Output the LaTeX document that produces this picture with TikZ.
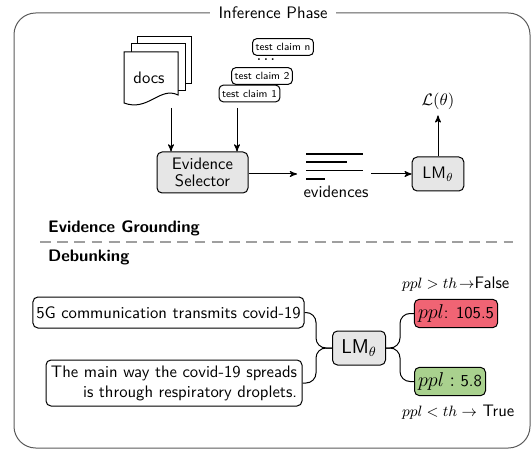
\documentclass[tikz,border=0pt]{standalone}
\usepackage{tikz}
\usepackage{xcolor}
\definecolor{reed}{RGB}{240,100,116}
\definecolor{greeen}{RGB}{169,209,142}
\definecolor{lightgrey}{RGB}{230,230,230}
\definecolor{framegrey}{RGB}{90,90,90}
\usetikzlibrary{arrows,positioning}

\begin{document}
\begin{tikzpicture}[x=0.6pt,y=-0.6pt,->,>=stealth',semithick,font=\sffamily]
        \tikzstyle{box}=[draw=black,fill=white,rounded corners=3pt,align=center,inner sep=2pt]
        \tikzstyle{grey}=[box,fill=lightgrey]
        \tikzstyle{claim}=[draw=black,fill=white,rounded corners=2.5pt,inner sep=1.8pt,minimum height=10pt,font=\sffamily\fontsize{6.3}{7}\selectfont]
        \tikzstyle{page}=[-,draw=black,fill=white]
        \tikzstyle{evline}=[-,line width=1.1pt]
        \tikzstyle{branch}=[-,rounded corners=6pt]

        \useasboundingbox (0,0) rectangle (531,450);

        % outer frame
        \draw[-,framegrey,rounded corners=13pt] (14,13) rectangle (530,448);
        \node[fill=white,inner sep=5pt] (title) at (273,13) {Inference Phase};

        % docs
        \draw[page] (137,37) -- (191,37) -- (191,84) -- (137,84) -- cycle;
        \draw[page] (131,44) -- (185,44) -- (185,91) -- (131,91) -- cycle;
        \draw[page] (124,52) -- (178,52) -- (178,95) .. controls (160,86) and (148,112) .. (124,103) -- cycle;
        \node (docs) at (149,78) {docs};

        % test claims
        \node[claim] (tcn) at (283,47)     {test claim n};
        \node[font=\scriptsize\boldmath] (dots) at (266,60) {$\cdots$};
        \node[claim] (tc2) at (262,76)     {test claim 2};
        \node[claim] (tc1) at (249.5,93.5) {test claim 1};

        \node[grey,minimum width=54.6pt,minimum height=24.6pt] (sel) at (202.5,172.5) {Evidence\\[-2pt]Selector};
        \coordinate (docsout)  at (171,108);
        \coordinate (claimout) at (237,108);
        \draw (docsout)  -- (docsout |- sel.north);
        \draw (claimout) -- (claimout |- sel.north);

        % evidences
        \draw[evline] (306,154) -- (363,154);
        \draw[evline] (306,162) -- (347,162);
        \draw[evline] (306,170.5) -- (363,170.5);
        \draw[evline] (306,179) -- (325,179);
        \node (ev) at (336,192) {evidences};
        \coordinate (evin)  at (297,174);
        \coordinate (evout) at (371,174);

        \node[grey,minimum width=31pt,minimum height=20.4pt] (lm) at (438,174) {LM$_\theta$};
        \node (loss) at (438,101) {$\mathcal{L}(\theta)$};

        \path (sel.east |- evin) edge (evin)
              (evout) edge (lm.west)
              (lm.north) edge (loss.south);

        % sections
        \node[anchor=west,font=\sffamily\bfseries] (grounding) at (42,228) {Evidence Grounding};
        \draw[-,dashed,gray!75,line width=1.5pt,dash pattern=on 6.5pt off 3.8pt] (40,242) -- (513,242);
        \node[anchor=west,font=\sffamily\bfseries] (debunking) at (42,257) {Debunking};

        % debunking
        \node[box,minimum width=160pt,minimum height=18.6pt] (c1) at (168.5,312.5) {5G communication transmits covid-19};
        \node[box,align=right,minimum width=153.6pt,minimum height=27.6pt] (c2) at (174,383) {The main way the covid-19 spreads\\is through respiratory droplets.};
        \node[grey,font=\sffamily\large,minimum width=31.8pt,minimum height=20.4pt] (lm2) at (359,348) {LM$_\theta$};
        \node[box,fill=reed,minimum width=50pt,minimum height=17pt] (high) at (456,313.5) {\large$ppl$\normalsize: 105.5};
        \node[box,fill=greeen,minimum width=42.6pt,minimum height=17pt] (low) at (450,381.5) {\large$ppl:$\normalsize\ 5.8};
        \node[anchor=west] (false) at (396,284) {\small$ppl > th \!\rightarrow$\normalsize False};
        \node[anchor=west] (true)  at (396,412) {\small$ppl < th \rightarrow$\normalsize\ True};

        \coordinate (join)  at (316,348);
        \coordinate (split) at (400,348);
        \draw[branch] (c1.east) -| (join) -- (lm2.west);
        \draw[branch] (c2.east) -| (join) -- (lm2.west);
        \draw[branch] (lm2.east) -- (split) |- (high.west);
        \draw[branch] (lm2.east) -- (split) |- (low.west);
\end{tikzpicture}
\end{document}
